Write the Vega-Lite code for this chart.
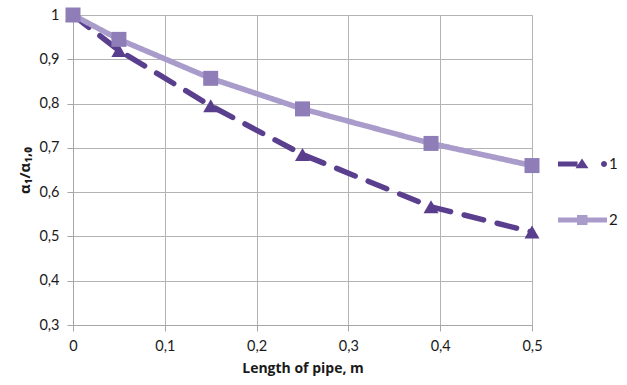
{
  "$schema": "https://vega.github.io/schema/vega-lite/v6.json",
  "width": 459,
  "height": 310,
  "autosize": {"type": "none"},
  "padding": {"left": 73, "top": 15, "right": 95, "bottom": 60},
  "background": "white",
  "config": {
    "font": "Lato",
    "view": {"stroke": null},
    "axis": {
      "gridColor": "#b3b3b3",
      "gridWidth": 1,
      "domainColor": "#a6a6a6",
      "tickColor": "#a6a6a6",
      "tickSize": 6,
      "labelFont": "Lato",
      "labelFontSize": 14.5,
      "labelColor": "#1a1a1a",
      "titleFont": "Open Sans",
      "titleFontWeight": "bold",
      "titleFontSize": 14,
      "titleColor": "#1a1a1a"
    }
  },
  "data": {
    "values": [
      {"x": 0, "y": 1.0, "series": "1"},
      {"x": 0.05, "y": 0.92, "series": "1"},
      {"x": 0.15, "y": 0.795, "series": "1"},
      {"x": 0.25, "y": 0.685, "series": "1"},
      {"x": 0.39, "y": 0.567, "series": "1"},
      {"x": 0.5, "y": 0.51, "series": "1"},
      {"x": 0, "y": 1.0, "series": "2"},
      {"x": 0.05, "y": 0.945, "series": "2"},
      {"x": 0.15, "y": 0.857, "series": "2"},
      {"x": 0.25, "y": 0.788, "series": "2"},
      {"x": 0.39, "y": 0.71, "series": "2"},
      {"x": 0.5, "y": 0.66, "series": "2"}
    ]
  },
  "encoding": {
    "x": {
      "field": "x",
      "type": "quantitative",
      "scale": {"domain": [0, 0.5], "nice": false},
      "axis": {
        "title": "Length of pipe, m",
        "values": [0, 0.1, 0.2, 0.3, 0.4, 0.5],
        "labelExpr": "replace(format(datum.value, '~g'), '.', ',')",
        "labelPadding": 8,
        "titlePadding": 9,
        "labelFlush": false
      }
    },
    "y": {
      "field": "y",
      "type": "quantitative",
      "scale": {"domain": [0.3, 1], "nice": false, "zero": false},
      "axis": {
        "title": "α₁/α₁,₀",
        "titleFontSize": 15,
        "values": [0.3, 0.4, 0.5, 0.6, 0.7, 0.8, 0.9, 1],
        "labelExpr": "replace(format(datum.value, '~g'), '.', ',')",
        "labelPadding": 8,
        "titlePadding": 6,
        "labelFlush": false
      }
    }
  },
  "layer": [
    {
      "mark": {"type": "line", "strokeWidth": 5.5, "strokeCap": "round"},
      "encoding": {
        "stroke": {
          "field": "series",
          "type": "nominal",
          "scale": {"domain": ["1", "2"], "range": ["#5b3f8f", "#a99ccb"]},
          "legend": null
        },
        "strokeDash": {
          "field": "series",
          "type": "nominal",
          "scale": {"domain": ["1", "2"], "range": [[20, 14], [1, 0]]},
          "legend": null
        }
      }
    },
    {
      "mark": {"type": "point", "filled": true, "opacity": 1},
      "encoding": {
        "fill": {
          "field": "series",
          "type": "nominal",
          "scale": {"domain": ["1", "2"], "range": ["#5a3e8e", "#8f7db8"]},
          "legend": null
        },
        "shape": {
          "field": "series",
          "type": "nominal",
          "scale": {"domain": ["1", "2"], "range": ["triangle-up", "square"]},
          "legend": null
        },
        "size": {"value": 225}
      }
    },
    {
      "mark": {"type": "point", "filled": true, "size": 0, "opacity": 1},
      "encoding": {
        "color": {
          "field": "series",
          "type": "nominal",
          "scale": {"domain": ["1", "2"], "range": ["#5b3f8f", "#a99ccb"]},
          "legend": {
            "orient": "none",
            "legendX": 484,
            "legendY": 124,
            "title": null,
            "padding": 0,
            "symbolSize": 2500,
            "symbolOpacity": 1,
            "symbolStrokeWidth": 0,
            "rowPadding": 23,
            "labelFont": "Lato",
            "labelFontSize": 15,
            "labelColor": "#1a1a1a",
            "labelOffset": 2
          }
        },
        "shape": {
          "field": "series",
          "type": "nominal",
          "scale": {"domain": ["1", "2"], "range": [
            "M-0.96,-0.1 L-0.18,-0.1 L-0.18,0.1 L-0.96,0.1 Z M-0.26,0.17 L0,-0.22 L0.26,0.17 Z M0.76,0 A0.12,0.12 0 1,0 1,0 A0.12,0.12 0 1,0 0.76,0 Z",
            "M-0.96,-0.1 L1,-0.1 L1,0.1 L-0.96,0.1 Z M-0.2,-0.2 L0.22,-0.2 L0.22,0.2 L-0.2,0.2 Z"
          ]}
        }
      }
    }
  ],
  "resolve": {
    "scale": {"shape": "independent"},
    "legend": {"color": "independent", "shape": "independent", "stroke": "independent", "strokeDash": "independent", "fill": "independent"}
  }
}
